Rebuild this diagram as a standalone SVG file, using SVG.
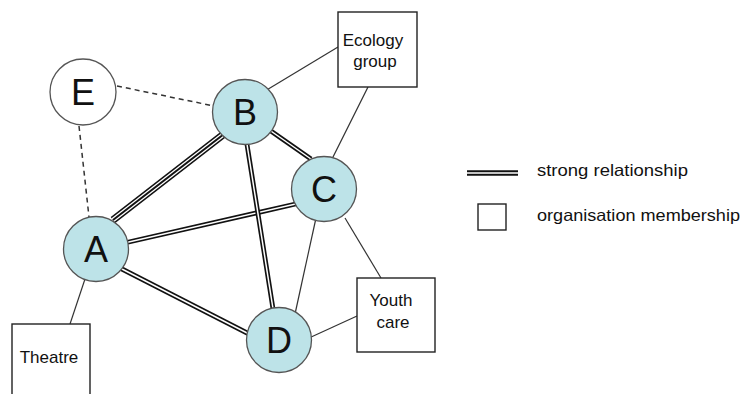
<svg xmlns="http://www.w3.org/2000/svg" width="745" height="394" viewBox="0 0 745 394">
<style>
.bg{fill:#ffffff}
.thin{stroke:#333;stroke-width:1.2;fill:none}
.dash{stroke:#333;stroke-width:1.5;fill:none;stroke-dasharray:5 4}
.dblo{stroke:#111;stroke-width:4.8;fill:none}
.dbli{stroke:#fff;stroke-width:1.5;fill:none}
.trio{stroke:#111;stroke-width:7.5;fill:none}
.trim{stroke:#fff;stroke-width:4.6;fill:none}
.trii{stroke:#111;stroke-width:2;fill:none}
.person{fill:#bde3e8;stroke:#555;stroke-width:1.3}
.outsider{fill:#fff;stroke:#555;stroke-width:1.3}
.org{fill:#fff;stroke:#222;stroke-width:1.4}
.big{font-family:"Liberation Sans",Arial,sans-serif;font-size:36px;fill:#111;text-anchor:middle}
.lbl{font-family:"Liberation Sans",Arial,sans-serif;font-size:17px;fill:#111;text-anchor:middle}
.leg{font-family:"Liberation Sans",Arial,sans-serif;font-size:16.5px;fill:#111}
</style>
<rect class="bg" x="0" y="0" width="745" height="394"/>
<g id="connectors">
  <line class="dash" x1="117" y1="86" x2="214" y2="106"/>
  <line class="dash" x1="79" y1="126" x2="89" y2="217"/>
  <line class="thin" x1="338" y1="47" x2="265" y2="91"/>
  <line class="thin" x1="368" y1="87" x2="332" y2="159"/>
  <line class="thin" x1="345" y1="218" x2="381" y2="278"/>
  <line class="thin" x1="316" y1="218" x2="295" y2="314"/>
  <line class="thin" x1="309" y1="338" x2="357" y2="316"/>
  <line class="thin" x1="85" y1="279" x2="70" y2="324"/>
  <g id="edge-A-B">
    <line class="trio" x1="113" y1="220" x2="224" y2="134"/>
    <line class="trim" x1="113" y1="220" x2="224" y2="134"/>
    <line class="trii" x1="113" y1="220" x2="224" y2="134"/>
  </g>
  <g id="edge-A-C">
    <line class="dblo" x1="120" y1="244" x2="300" y2="203"/>
    <line class="dbli" x1="120" y1="244" x2="300" y2="203"/>
  </g>
  <g id="edge-B-D">
    <line class="dblo" x1="246" y1="138" x2="274" y2="315"/>
    <line class="dbli" x1="246" y1="138" x2="274" y2="315"/>
  </g>
  <g id="edge-B-C">
    <line class="dblo" x1="268" y1="129" x2="311" y2="159"/>
    <line class="dbli" x1="268" y1="129" x2="311" y2="159"/>
  </g>
  <g id="edge-A-D">
    <line class="dblo" x1="120" y1="268" x2="251" y2="335"/>
    <line class="dbli" x1="120" y1="268" x2="251" y2="335"/>
  </g>
</g>
<g id="node-E">
  <circle class="outsider" cx="83" cy="92" r="33"/>
  <text class="big" x="83" y="105">E</text>
</g>
<g id="node-B">
  <circle class="person" cx="245" cy="112" r="32.5"/>
  <text class="big" x="245" y="125">B</text>
</g>
<g id="node-C">
  <circle class="person" cx="324" cy="189" r="32.5"/>
  <text class="big" x="324" y="202">C</text>
</g>
<g id="node-A">
  <circle class="person" cx="96" cy="249" r="32.5"/>
  <text class="big" x="96" y="262">A</text>
</g>
<g id="node-D">
  <circle class="person" cx="279" cy="340" r="32.5"/>
  <text class="big" x="279" y="353">D</text>
</g>
<g id="org-ecology">
  <rect class="org" x="338" y="12" width="79" height="75"/>
  <text class="lbl" x="373" y="46">Ecology</text>
  <text class="lbl" x="375" y="67">group</text>
</g>
<g id="org-youth">
  <rect class="org" x="357" y="278" width="78" height="74"/>
  <text class="lbl" x="391" y="306">Youth</text>
  <text class="lbl" x="393" y="328">care</text>
</g>
<g id="org-theatre">
  <rect class="org" x="12" y="324" width="78" height="80"/>
  <text class="lbl" x="49" y="363">Theatre</text>
</g>
<g id="legend">
  <line x1="467" y1="173" x2="518" y2="173" stroke="#111" stroke-width="5.5"/>
  <line x1="467" y1="173" x2="518" y2="173" stroke="#fff" stroke-width="1.3"/>
  <text class="leg" x="537" y="176" textLength="151" lengthAdjust="spacingAndGlyphs">strong relationship</text>
  <rect class="org" x="478" y="204" width="28" height="26"/>
  <text class="leg" x="537" y="221" textLength="203" lengthAdjust="spacingAndGlyphs">organisation membership</text>
</g>
</svg>
